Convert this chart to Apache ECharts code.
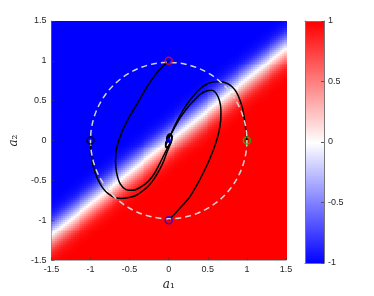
<!DOCTYPE html>
<html><head><meta charset="utf-8">
<script src="https://cdn.jsdelivr.net/npm/echarts@6/dist/echarts.min.js"></script>
<style>html,body{margin:0;padding:0;background:#fff}#c{width:374px;height:296px}</style>
</head><body><div id="c"></div>
<script>
// ---- data ----
const axisMin = -1.5, axisMax = 1.5, axisStep = 0.5;
const cbMin = -1, cbMax = 1, cbStep = 0.5;
// background field: value depends on vertical offset from the line a2 = slope*a1
const boundarySlope = 0.78;
const profileOffset = [-0.45,-0.375,-0.3,-0.25,-0.2,-0.15,-0.1,-0.05,0,0.05,0.1,0.15,0.2,0.25,0.3,0.375,0.45];
const profileValue  = [1,0.98,0.93,0.86,0.74,0.58,0.4,0.2,0,-0.2,-0.4,-0.58,-0.74,-0.86,-0.93,-0.98,-1];

const trajRed = [[0,1.0],[-0.13,0.876],[-0.254,0.712],[-0.377,0.505],[-0.501,0.3],[-0.605,0.093],[-0.667,-0.1],[-0.68,-0.25],[-0.667,-0.4],[-0.62,-0.545],[-0.545,-0.615],[-0.46,-0.625],[-0.36,-0.585],[-0.26,-0.51],[-0.18,-0.41],[-0.12,-0.3],[-0.07,-0.2],[-0.02,-0.1],[0.03,-0.02],[0.045,0.05],[0.02,0.085],[-0.015,0.065],[-0.025,0.02],[-0.01,-0.01],[0,0]];
const trajBlack = [[-1.0,0.0],[-0.995,-0.12],[-0.98,-0.25],[-0.95,-0.38],[-0.9,-0.5],[-0.84,-0.6],[-0.77,-0.67],[-0.69,-0.715],[-0.6,-0.728],[-0.51,-0.715],[-0.42,-0.69],[-0.33,-0.63],[-0.25,-0.56],[-0.19,-0.485],[-0.12,-0.37],[-0.064,-0.258],[-0.02,-0.14],[0.02,-0.05],[0.04,0.02],[0.025,0.07],[-0.005,0.06],[-0.02,0.02],[0,0]];
const trajGreen = [[1.0,0.0],[0.985,0.14],[0.967,0.28],[0.945,0.4],[0.91,0.51],[0.864,0.61],[0.81,0.675],[0.755,0.712],[0.657,0.74],[0.554,0.733],[0.47,0.7],[0.39,0.64],[0.307,0.55],[0.24,0.465],[0.183,0.38],[0.12,0.27],[0.064,0.16],[0.02,0.06],[-0.02,-0.02],[-0.04,-0.07],[-0.025,-0.09],[0.0,-0.065],[0.02,-0.02],[0,0]];
const trajBlue = [[0,-1.0],[0.1,-0.897],[0.18,-0.81],[0.266,-0.712],[0.33,-0.61],[0.39,-0.505],[0.46,-0.37],[0.514,-0.257],[0.595,-0.052],[0.64,0.1],[0.665,0.25],[0.668,0.38],[0.65,0.5],[0.605,0.595],[0.55,0.63],[0.48,0.622],[0.41,0.585],[0.34,0.52],[0.266,0.443],[0.2,0.36],[0.142,0.278],[0.09,0.19],[0.04,0.1],[-0.01,0.03],[-0.04,-0.04],[-0.035,-0.08],[-0.005,-0.075],[0.015,-0.03],[0.005,-0.005],[0,0]];
const startPoints = [[0,1],[-1,0],[1,0],[0,-1]];
const equilibrium = [[0,0]];
const unitCircle = [[0,0,1]]; // centre x, centre y, radius

// ---- build tables for the library ----
const N = 121;
function profileAt(o){
  const L = profileOffset.length;
  if (o <= profileOffset[0]) return profileValue[0];
  if (o >= profileOffset[L-1]) return profileValue[L-1];
  for (let k = 0; k < L-1; k++){
    if (o <= profileOffset[k+1]){
      const t = (o - profileOffset[k]) / (profileOffset[k+1] - profileOffset[k]);
      return profileValue[k] + t * (profileValue[k+1] - profileValue[k]);
    }
  }
}
const cw = (axisMax - axisMin) / N;
const fieldData = [];
for (let i = 0; i < N; i++){
  const a1 = axisMin + (i + 0.5) * cw;
  for (let j = 0; j < N; j++){
    const a2 = axisMin + (j + 0.5) * cw;
    fieldData.push([a1, a2, profileAt(a2 - boundarySlope * a1)]);
  }
}
const ch = (cbMax - cbMin) / N;
const cbData = [];
for (let j = 0; j < N; j++){ const v = cbMin + (j + 0.5) * ch; cbData.push([0.5, v, v]); }

function cellRenderer(wx, wy){
  return function(params, api){
    const c = api.coord([api.value(0), api.value(1)]);
    const s = api.size([wx, wy]);
    const x0 = Math.round(c[0] - s[0] / 2), y0 = Math.round(c[1] - s[1] / 2);
    return {type: 'rect', shape: {x: x0, y: y0, width: Math.round(s[0]) + 1, height: Math.round(s[1]) + 1},
            style: {fill: api.visual('color')}};
  };
}

const txt = '#262626';
const nameRich = {
  i: {fontFamily: 'DejaVu Serif', fontStyle: 'italic', fontSize: 12, color: txt},
  s: {fontFamily: 'DejaVu Serif', fontSize: 12, color: txt}
};
function traj(d){
  return {type: 'line', xAxisIndex: 0, yAxisIndex: 0, data: d, showSymbol: false, smooth: 0.3,
          lineStyle: {color: '#000', width: 1.5}, z: 3, silent: true};
}
const borderAxis = (g, pos, mn, mx) => ({type: 'value', gridIndex: g, position: pos, min: mn, max: mx, z: 5,
  axisLine: {show: true, onZero: false, lineStyle: {color: '#777', width: 1}}, axisTick: {show: false},
  axisLabel: {show: false}, splitLine: {show: false}});

const chart = echarts.init(document.getElementById('c'), null, {renderer: 'canvas'});
chart.setOption({
  animation: false,
  backgroundColor: '#fff',
  textStyle: {fontFamily: 'Liberation Sans'},
  grid: [
    {left: 44, top: 21, width: 242, height: 242},
    {left: 305, top: 21, width: 19, height: 242}
  ],
  xAxis: [
    {type: 'value', gridIndex: 0, min: axisMin, max: axisMax, interval: axisStep, position: 'bottom', z: 5,
     axisLine: {show: true, onZero: false, lineStyle: {color: 'rgba(120,120,120,0.6)'}},
     axisTick: {show: true, inside: true, length: 3, lineStyle: {color: 'rgba(60,60,60,0.6)'}},
     axisLabel: {fontSize: 9, color: txt, margin: 5, fontFamily: 'Liberation Sans'},
     splitLine: {show: false},
     name: '{i|a}{s|\u2081}', nameLocation: 'middle', nameGap: 14, nameTextStyle: {rich: nameRich}},
    borderAxis(1, 'bottom', 0, 1),
    borderAxis(1, 'top', 0, 1)
  ],
  yAxis: [
    {type: 'value', gridIndex: 0, min: axisMin, max: axisMax, interval: axisStep, position: 'left', z: 5,
     axisLine: {show: true, onZero: false, lineStyle: {color: 'rgba(120,120,120,0.6)'}},
     axisTick: {show: true, inside: true, length: 3, lineStyle: {color: 'rgba(60,60,60,0.6)'}},
     axisLabel: {fontSize: 9, color: txt, margin: 5, fontFamily: 'Liberation Sans'},
     splitLine: {show: false},
     name: '{i|a}{s|\u2082}', nameLocation: 'middle', nameGap: 24, nameRotate: 90, nameTextStyle: {rich: nameRich}},
    {type: 'value', gridIndex: 1, min: cbMin, max: cbMax, interval: cbStep, position: 'right', z: 5,
     axisLine: {show: true, onZero: false, lineStyle: {color: '#777'}},
     axisTick: {show: true, inside: true, length: 3, lineStyle: {color: '#555'}},
     axisLabel: {fontSize: 9, color: txt, margin: 4, fontFamily: 'Liberation Sans'},
     splitLine: {show: false}},
    borderAxis(1, 'left', cbMin, cbMax)
  ],
  visualMap: {
    type: 'continuous', show: false, min: cbMin, max: cbMax, seriesIndex: [0, 1], dimension: 2,
    inRange: {color: ['#0000ff', '#ffffff', '#ff0000']}
  },
  series: [
    {type: 'custom', xAxisIndex: 0, yAxisIndex: 0, data: fieldData, progressive: 0, clip: true, silent: true, z: 1,
     renderItem: cellRenderer(cw, cw)},
    {type: 'custom', xAxisIndex: 1, yAxisIndex: 1, data: cbData, progressive: 0, clip: true, silent: true, z: 1,
     renderItem: cellRenderer(1, ch)},
    traj(trajRed), traj(trajBlack), traj(trajGreen), traj(trajBlue),
    {type: 'custom', xAxisIndex: 0, yAxisIndex: 0, data: unitCircle, z: 4, silent: true,
     renderItem: function(params, api){
       const c = api.coord([api.value(0), api.value(1)]);
       const r = api.size([api.value(2), 0])[0];
       return {type: 'circle', shape: {cx: c[0], cy: c[1], r: r},
               style: {fill: 'none', stroke: '#d4d4d4', lineWidth: 1.5, lineDash: [6, 4]}};
     }},
    {type: 'scatter', xAxisIndex: 0, yAxisIndex: 0, symbol: 'circle', symbolSize: 7, z: 6, silent: true,
     data: startPoints.map((p, k) => ({value: p, itemStyle: {color: 'rgba(0,0,0,0)', borderWidth: 1.5,
       borderColor: ['#ff0000', '#000000', '#00cc00', '#0000ff'][k]}}))},
    {type: 'scatter', xAxisIndex: 0, yAxisIndex: 0, symbol: 'circle', symbolSize: 5, z: 6, silent: true,
     data: equilibrium, itemStyle: {color: '#0000ff'}}
  ]
});
</script></body></html>
